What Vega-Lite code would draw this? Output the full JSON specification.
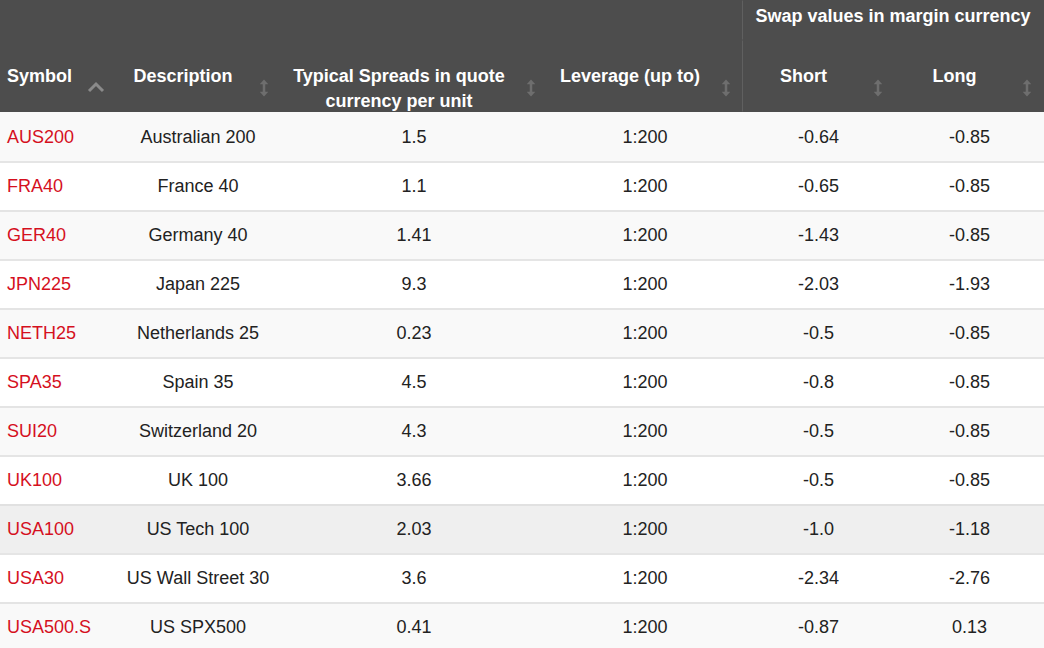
{
  "$schema": "https://vega.github.io/schema/vega-lite/v6.json",
  "padding": 0,
  "background": "#ffffff",
  "config": {
    "view": {"stroke": null},
    "concat": {"spacing": 0},
    "text": {"font": "Liberation Sans", "fontSize": 18}
  },
  "datasets": {
    "rows": [
      {"Symbol": "AUS200", "Description": "Australian 200", "Spread": "1.5", "Leverage": "1:200", "Short": "-0.64", "Long": "-0.85"},
      {"Symbol": "FRA40", "Description": "France 40", "Spread": "1.1", "Leverage": "1:200", "Short": "-0.65", "Long": "-0.85"},
      {"Symbol": "GER40", "Description": "Germany 40", "Spread": "1.41", "Leverage": "1:200", "Short": "-1.43", "Long": "-0.85"},
      {"Symbol": "JPN225", "Description": "Japan 225", "Spread": "9.3", "Leverage": "1:200", "Short": "-2.03", "Long": "-1.93"},
      {"Symbol": "NETH25", "Description": "Netherlands 25", "Spread": "0.23", "Leverage": "1:200", "Short": "-0.5", "Long": "-0.85"},
      {"Symbol": "SPA35", "Description": "Spain 35", "Spread": "4.5", "Leverage": "1:200", "Short": "-0.8", "Long": "-0.85"},
      {"Symbol": "SUI20", "Description": "Switzerland 20", "Spread": "4.3", "Leverage": "1:200", "Short": "-0.5", "Long": "-0.85"},
      {"Symbol": "UK100", "Description": "UK 100", "Spread": "3.66", "Leverage": "1:200", "Short": "-0.5", "Long": "-0.85"},
      {"Symbol": "USA100", "Description": "US Tech 100", "Spread": "2.03", "Leverage": "1:200", "Short": "-1.0", "Long": "-1.18"},
      {"Symbol": "USA30", "Description": "US Wall Street 30", "Spread": "3.6", "Leverage": "1:200", "Short": "-2.34", "Long": "-2.76"},
      {"Symbol": "USA500.S", "Description": "US SPX500", "Spread": "0.41", "Leverage": "1:200", "Short": "-0.87", "Long": "0.13"}
    ],
    "cols": [
      {"key": "Symbol", "label": "Symbol"},
      {"key": "Description", "label": "Description"},
      {"key": "Spread", "label": "Typical Spreads in quote\ncurrency per unit"},
      {"key": "Leverage", "label": "Leverage (up to)"},
      {"key": "Swap", "label": "Swap values in margin currency"},
      {"key": "Short", "label": "Short"},
      {"key": "Long", "label": "Long"}
    ]
  },
  "vconcat": [
    {
      "hconcat": [
        {
          "width": 116, "height": 112,
          "view": {"fill": "#4d4d4d", "stroke": null},
          "data": {"name": "cols"},
          "transform": [{"filter": "datum.key === 'Symbol'"}],
          "layer": [
            {"mark": {"type": "text", "fontWeight": "bold", "color": "#ffffff", "align": "left", "dx": -51, "dy": 21}, "encoding": {"text": {"field": "label"}}},
            {"mark": {"type": "point", "shape": "M-1,0.5L0,-0.5L1,0.5", "filled": false, "strokeWidth": 3, "color": "#8a8a8a", "size": 196, "xOffset": 38, "yOffset": 31.5, "opacity": 1}, "encoding": {}}
          ]
        },
        {
          "width": 164, "height": 112,
          "view": {"fill": "#4d4d4d", "stroke": null},
          "data": {"name": "cols"},
          "transform": [{"filter": "datum.key === 'Description'"}],
          "layer": [
            {"mark": {"type": "text", "fontWeight": "bold", "color": "#ffffff", "dx": -15, "dy": 21}, "encoding": {"text": {"field": "label"}}},
            {"mark": {"type": "point", "shape": "M0,-1L0.5,-0.45L0.15,-0.45L0.15,0.45L0.5,0.45L0,1L-0.5,0.45L-0.15,0.45L-0.15,-0.45L-0.5,-0.45Z", "filled": true, "color": "#6e6e6e", "size": 289, "xOffset": 66, "yOffset": 32, "opacity": 1}, "encoding": {}}
          ]
        },
        {
          "width": 268, "height": 112,
          "view": {"fill": "#4d4d4d", "stroke": null},
          "data": {"name": "cols"},
          "transform": [{"filter": "datum.key === 'Spread'"}],
          "layer": [
            {"mark": {"type": "text", "fontWeight": "bold", "color": "#ffffff", "dx": -15, "dy": 21, "lineBreak": "\n", "lineHeight": 25}, "encoding": {"text": {"field": "label"}}},
            {"mark": {"type": "point", "shape": "M0,-1L0.5,-0.45L0.15,-0.45L0.15,0.45L0.5,0.45L0,1L-0.5,0.45L-0.15,0.45L-0.15,-0.45L-0.5,-0.45Z", "filled": true, "color": "#6e6e6e", "size": 289, "xOffset": 117, "yOffset": 32, "opacity": 1}, "encoding": {}}
          ]
        },
        {
          "width": 194, "height": 112,
          "view": {"fill": "#4d4d4d", "stroke": null},
          "data": {"name": "cols"},
          "transform": [{"filter": "datum.key === 'Leverage'"}],
          "layer": [
            {"mark": {"type": "text", "fontWeight": "bold", "color": "#ffffff", "dx": -15, "dy": 21}, "encoding": {"text": {"field": "label"}}},
            {"mark": {"type": "point", "shape": "M0,-1L0.5,-0.45L0.15,-0.45L0.15,0.45L0.5,0.45L0,1L-0.5,0.45L-0.15,0.45L-0.15,-0.45L-0.5,-0.45Z", "filled": true, "color": "#6e6e6e", "size": 289, "xOffset": 81, "yOffset": 32, "opacity": 1}, "encoding": {}}
          ]
        },
        {
          "vconcat": [
            {
              "width": 302, "height": 40,
              "view": {"fill": "#4d4d4d", "stroke": null},
              "data": {"name": "cols"},
              "transform": [{"filter": "datum.key === 'Swap'"}],
              "layer": [
                {"mark": {"type": "rule", "color": "#606060", "strokeWidth": 1}, "encoding": {"x": {"value": 0.5}, "y": {"value": 0.5}, "y2": {"value": 39.5}}},
                {"mark": {"type": "text", "fontWeight": "bold", "color": "#ffffff", "dy": -3.5}, "encoding": {"text": {"field": "label"}}}
              ]
            },
            {
              "hconcat": [
                {
                  "width": 153, "height": 72,
                  "view": {"fill": "#4d4d4d", "stroke": null},
                  "data": {"name": "cols"},
                  "transform": [{"filter": "datum.key === 'Short'"}],
                  "layer": [
                    {"mark": {"type": "rule", "color": "#606060", "strokeWidth": 1}, "encoding": {"x": {"value": 0.5}, "y": {"value": 0.5}, "y2": {"value": 71.5}}},
                    {"mark": {"type": "text", "fontWeight": "bold", "color": "#ffffff", "dx": -15, "dy": 1}, "encoding": {"text": {"field": "label"}}},
                    {"mark": {"type": "point", "shape": "M0,-1L0.5,-0.45L0.15,-0.45L0.15,0.45L0.5,0.45L0,1L-0.5,0.45L-0.15,0.45L-0.15,-0.45L-0.5,-0.45Z", "filled": true, "color": "#6e6e6e", "size": 289, "xOffset": 59.5, "yOffset": 12, "opacity": 1}, "encoding": {}}
                  ]
                },
                {
                  "width": 149, "height": 72,
                  "view": {"fill": "#4d4d4d", "stroke": null},
                  "data": {"name": "cols"},
                  "transform": [{"filter": "datum.key === 'Long'"}],
                  "layer": [
                    {"mark": {"type": "text", "fontWeight": "bold", "color": "#ffffff", "dx": -15, "dy": 1}, "encoding": {"text": {"field": "label"}}},
                    {"mark": {"type": "point", "shape": "M0,-1L0.5,-0.45L0.15,-0.45L0.15,0.45L0.5,0.45L0,1L-0.5,0.45L-0.15,0.45L-0.15,-0.45L-0.5,-0.45Z", "filled": true, "color": "#6e6e6e", "size": 289, "xOffset": 57.5, "yOffset": 12, "opacity": 1}, "encoding": {}}
                  ]
                }
              ]
            }
          ]
        }
      ]
    },
    {
      "hconcat": [
        {
          "width": 116, "height": 536,
          "data": {"name": "rows"},
          "transform": [{"window": [{"op": "row_number", "as": "rn"}]}],
          "encoding": {"y": {"field": "Symbol", "type": "nominal", "sort": null, "axis": null, "scale": {"paddingInner": 0, "paddingOuter": 0, "range": [0, 539]}}},
          "layer": [
            {"mark": {"type": "rect", "clip": true}, "encoding": {"color": {"condition": [{"test": "datum.Symbol === 'USA100'", "value": "#efefef"}, {"test": "datum.rn % 2 === 1", "value": "#f9f9f9"}], "value": "#ffffff"}}},
            {"mark": {"type": "rule", "color": "#dddddd", "strokeWidth": 1.5, "yOffset": 1, "clip": true}, "encoding": {"y": {"field": "Symbol", "type": "nominal", "sort": null, "bandPosition": 1}}},
            {"mark": {"type": "text", "color": "#d5101e", "align": "left", "dx": -51, "dy": 1.5, "clip": true}, "encoding": {"text": {"field": "Symbol"}}}
          ]
        },
        {
          "width": 164, "height": 536,
          "data": {"name": "rows"},
          "transform": [{"window": [{"op": "row_number", "as": "rn"}]}],
          "encoding": {"y": {"field": "Symbol", "type": "nominal", "sort": null, "axis": null, "scale": {"paddingInner": 0, "paddingOuter": 0, "range": [0, 539]}}},
          "layer": [
            {"mark": {"type": "rect", "clip": true}, "encoding": {"color": {"condition": [{"test": "datum.Symbol === 'USA100'", "value": "#efefef"}, {"test": "datum.rn % 2 === 1", "value": "#f9f9f9"}], "value": "#ffffff"}}},
            {"mark": {"type": "rule", "color": "#dddddd", "strokeWidth": 1.5, "yOffset": 1, "clip": true}, "encoding": {"y": {"field": "Symbol", "type": "nominal", "sort": null, "bandPosition": 1}}},
            {"mark": {"type": "text", "color": "#222222", "dy": 1.5, "clip": true}, "encoding": {"text": {"field": "Description"}}}
          ]
        },
        {
          "width": 268, "height": 536,
          "data": {"name": "rows"},
          "transform": [{"window": [{"op": "row_number", "as": "rn"}]}],
          "encoding": {"y": {"field": "Symbol", "type": "nominal", "sort": null, "axis": null, "scale": {"paddingInner": 0, "paddingOuter": 0, "range": [0, 539]}}},
          "layer": [
            {"mark": {"type": "rect", "clip": true}, "encoding": {"color": {"condition": [{"test": "datum.Symbol === 'USA100'", "value": "#efefef"}, {"test": "datum.rn % 2 === 1", "value": "#f9f9f9"}], "value": "#ffffff"}}},
            {"mark": {"type": "rule", "color": "#dddddd", "strokeWidth": 1.5, "yOffset": 1, "clip": true}, "encoding": {"y": {"field": "Symbol", "type": "nominal", "sort": null, "bandPosition": 1}}},
            {"mark": {"type": "text", "color": "#222222", "dy": 1.5, "clip": true}, "encoding": {"text": {"field": "Spread"}}}
          ]
        },
        {
          "width": 194, "height": 536,
          "data": {"name": "rows"},
          "transform": [{"window": [{"op": "row_number", "as": "rn"}]}],
          "encoding": {"y": {"field": "Symbol", "type": "nominal", "sort": null, "axis": null, "scale": {"paddingInner": 0, "paddingOuter": 0, "range": [0, 539]}}},
          "layer": [
            {"mark": {"type": "rect", "clip": true}, "encoding": {"color": {"condition": [{"test": "datum.Symbol === 'USA100'", "value": "#efefef"}, {"test": "datum.rn % 2 === 1", "value": "#f9f9f9"}], "value": "#ffffff"}}},
            {"mark": {"type": "rule", "color": "#dddddd", "strokeWidth": 1.5, "yOffset": 1, "clip": true}, "encoding": {"y": {"field": "Symbol", "type": "nominal", "sort": null, "bandPosition": 1}}},
            {"mark": {"type": "text", "color": "#222222", "dy": 1.5, "clip": true}, "encoding": {"text": {"field": "Leverage"}}}
          ]
        },
        {
          "width": 153, "height": 536,
          "data": {"name": "rows"},
          "transform": [{"window": [{"op": "row_number", "as": "rn"}]}],
          "encoding": {"y": {"field": "Symbol", "type": "nominal", "sort": null, "axis": null, "scale": {"paddingInner": 0, "paddingOuter": 0, "range": [0, 539]}}},
          "layer": [
            {"mark": {"type": "rect", "clip": true}, "encoding": {"color": {"condition": [{"test": "datum.Symbol === 'USA100'", "value": "#efefef"}, {"test": "datum.rn % 2 === 1", "value": "#f9f9f9"}], "value": "#ffffff"}}},
            {"mark": {"type": "rule", "color": "#dddddd", "strokeWidth": 1.5, "yOffset": 1, "clip": true}, "encoding": {"y": {"field": "Symbol", "type": "nominal", "sort": null, "bandPosition": 1}}},
            {"mark": {"type": "text", "color": "#222222", "dy": 1.5, "clip": true}, "encoding": {"text": {"field": "Short"}}}
          ]
        },
        {
          "width": 149, "height": 536,
          "data": {"name": "rows"},
          "transform": [{"window": [{"op": "row_number", "as": "rn"}]}],
          "encoding": {"y": {"field": "Symbol", "type": "nominal", "sort": null, "axis": null, "scale": {"paddingInner": 0, "paddingOuter": 0, "range": [0, 539]}}},
          "layer": [
            {"mark": {"type": "rect", "clip": true}, "encoding": {"color": {"condition": [{"test": "datum.Symbol === 'USA100'", "value": "#efefef"}, {"test": "datum.rn % 2 === 1", "value": "#f9f9f9"}], "value": "#ffffff"}}},
            {"mark": {"type": "rule", "color": "#dddddd", "strokeWidth": 1.5, "yOffset": 1, "clip": true}, "encoding": {"y": {"field": "Symbol", "type": "nominal", "sort": null, "bandPosition": 1}}},
            {"mark": {"type": "text", "color": "#222222", "dy": 1.5, "clip": true}, "encoding": {"text": {"field": "Long"}}}
          ]
        }
      ]
    }
  ]
}
